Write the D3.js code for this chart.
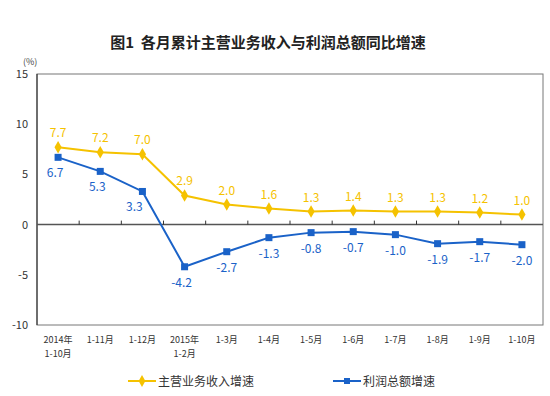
<!DOCTYPE html>
<html lang="zh">
<head>
<meta charset="UTF-8">
<script src="https://d3js.org/d3.v7.min.js"></script>
<style>
  body { margin: 0; background: #fff; }
  text { font-family: "Noto Sans CJK SC", "DejaVu Sans", sans-serif; }
</style>
</head>
<body>
<div id="container"></div>
<script>
    const width = 550, height = 396;

    // 数据
    const categories = [["2014年", "1-10月"], ["1-11月"], ["1-12月"], ["2015年", "1-2月"], ["1-3月"], ["1-4月"],
        ["1-5月"], ["1-6月"], ["1-7月"], ["1-8月"], ["1-9月"], ["1-10月"]];
    const revenue = [7.7, 7.2, 7.0, 2.9, 2.0, 1.6, 1.3, 1.4, 1.3, 1.3, 1.2, 1.0];
    const profit = [6.7, 5.3, 3.3, -4.2, -2.7, -1.3, -0.8, -0.7, -1.0, -1.9, -1.7, -2.0];
    const yTicks = [-10, -5, 0, 5, 10, 15];
    const seriesNames = ["主营业务收入增速", "利润总额增速"];

    const yellow = "#F5C200", blue = "#1a62c8";
    const margin = { left: 37, right: 7, top: 74, bottom: 71 };

    const svg = d3.select("#container")
        .append("svg")
        .attr("width", width)
        .attr("height", height);

    const x = d3.scaleBand()
        .domain(d3.range(categories.length))
        .range([margin.left, width - margin.right]);
    const y = d3.scaleLinear()
        .domain([-10, 15])
        .range([height - margin.bottom, margin.top]);
    const cx = i => x(i) + x.bandwidth() / 2;

    // 标题
    svg.append("text")
        .attr("x", 268)
        .attr("y", 48)
        .attr("text-anchor", "middle")
        .attr("font-size", 15)
        .attr("font-weight", "bold")
        .attr("fill", "#222")
        .text("图1\u00a0\u00a0各月累计主营业务收入与利润总额同比增速");

    svg.append("text")
        .attr("x", 23)
        .attr("y", 65)
        .attr("font-size", 9)
        .attr("fill", "#444")
        .text("(%)");

    // 边框
    svg.append("rect")
        .attr("x", margin.left)
        .attr("y", margin.top)
        .attr("width", width - margin.left - margin.right)
        .attr("height", height - margin.top - margin.bottom)
        .attr("fill", "none")
        .attr("stroke", "#777")
        .attr("stroke-width", 1);
    svg.append("line")
        .attr("x1", margin.left).attr("x2", margin.left)
        .attr("y1", margin.top).attr("y2", height - margin.bottom)
        .attr("stroke", "#222");

    // y轴刻度
    svg.append("g")
        .selectAll("text")
        .data(yTicks)
        .enter()
        .append("text")
        .attr("x", 28)
        .attr("y", d => y(d) + 4)
        .attr("text-anchor", "end")
        .attr("font-size", 11)
        .attr("fill", "#333")
        .text(d => d);

    // 零线 + 刻度
    svg.append("line")
        .attr("x1", margin.left).attr("x2", width - margin.right)
        .attr("y1", y(0)).attr("y2", y(0))
        .attr("stroke", "#555")
        .attr("stroke-width", 1.5);
    svg.append("g")
        .selectAll("line")
        .data(d3.range(1, categories.length))
        .enter()
        .append("line")
        .attr("x1", d => x(d)).attr("x2", d => x(d))
        .attr("y1", y(0)).attr("y2", y(0) - 4)
        .attr("stroke", "#333");

    // x轴标签
    svg.append("g")
        .attr("text-anchor", "middle")
        .attr("font-size", 9)
        .attr("fill", "#333")
        .selectAll("text")
        .data(categories)
        .enter()
        .append("text")
        .attr("y", 343)
        .each(function (d, i) {
            d3.select(this).selectAll("tspan")
                .data(d)
                .enter()
                .append("tspan")
                .attr("x", cx(i))
                .attr("dy", (t, j) => j === 0 ? 0 : 14)
                .text(t => t);
        });

    const line = d3.line().x((d, i) => cx(i)).y(d => y(d));

    // 主营业务收入
    svg.append("path")
        .attr("d", line(revenue))
        .attr("fill", "none")
        .attr("stroke", yellow)
        .attr("stroke-width", 2);
    svg.append("g")
        .selectAll("path")
        .data(revenue)
        .enter()
        .append("path")
        .attr("transform", (d, i) => `translate(${cx(i)},${y(d)})`)
        .attr("d", d3.symbol(d3.symbolDiamond, 45))
        .attr("fill", yellow);
    svg.append("g")
        .attr("text-anchor", "middle")
        .attr("font-size", 12)
        .attr("fill", yellow)
        .selectAll("text")
        .data(revenue)
        .enter()
        .append("text")
        .attr("x", (d, i) => cx(i))
        .attr("y", d => y(d) - 10)
        .text(d => d.toFixed(1));

    // 利润总额
    svg.append("path")
        .attr("d", line(profit))
        .attr("fill", "none")
        .attr("stroke", blue)
        .attr("stroke-width", 2);
    svg.append("g")
        .selectAll("rect")
        .data(profit)
        .enter()
        .append("rect")
        .attr("x", (d, i) => cx(i) - 3.5)
        .attr("y", d => y(d) - 3.5)
        .attr("width", 7)
        .attr("height", 7)
        .attr("fill", blue);
    svg.append("g")
        .attr("text-anchor", "middle")
        .attr("font-size", 12)
        .attr("fill", blue)
        .selectAll("text")
        .data(profit)
        .enter()
        .append("text")
        .attr("x", (d, i) => cx(i) - (i === 2 ? 8 : i < 4 ? 3 : 0))
        .attr("y", d => y(d) + 20)
        .text(d => d.toFixed(1));

    // 图例
    const legend = svg.append("g").attr("font-size", 12).attr("fill", "#333");
    [[128, yellow, 0], [333, blue, 1]].forEach(([lx, c, k]) => {
        legend.append("line")
            .attr("x1", lx).attr("x2", lx + 28)
            .attr("y1", 381).attr("y2", 381)
            .attr("stroke", c).attr("stroke-width", 2);
        if (k === 0) {
            legend.append("path")
                .attr("transform", `translate(${lx + 14},381)`)
                .attr("d", d3.symbol(d3.symbolDiamond, 40))
                .attr("fill", c);
        } else {
            legend.append("rect")
                .attr("x", lx + 11).attr("y", 378)
                .attr("width", 6).attr("height", 6)
                .attr("fill", c);
        }
        legend.append("text")
            .attr("x", lx + 30)
            .attr("y", 385.5)
            .text(seriesNames[k]);
    });
</script>
</body>
</html>
